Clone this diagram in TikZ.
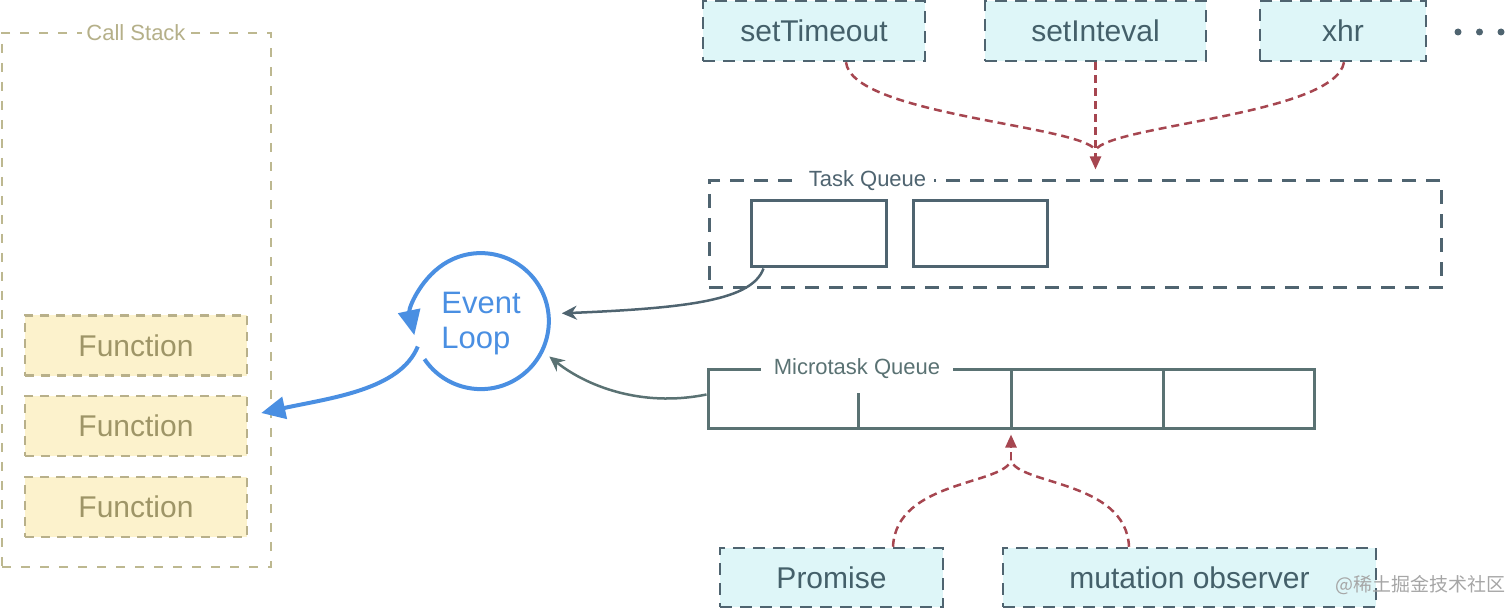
\documentclass[tikz,border=0pt]{standalone}
\usepackage{fontspec}
\setmainfont{Liberation Sans}
\newfontfamily\cjkfont{Noto Sans CJK SC}
\usetikzlibrary{arrows.meta,calc}
\definecolor{csline}{HTML}{BDB890}
\definecolor{cstext}{HTML}{B5B089}
\definecolor{fnfill}{HTML}{FCF2CC}
\definecolor{fnline}{HTML}{B8B08A}
\definecolor{fntext}{HTML}{9E9567}
\definecolor{cyfill}{HTML}{DEF6F8}
\definecolor{slate}{HTML}{4F6470}
\definecolor{cytext}{HTML}{44606A}
\definecolor{elblue}{HTML}{4A8FE2}
\definecolor{redarr}{HTML}{A64650}
\definecolor{mqcol}{HTML}{5A7273}
\tikzset{
  csbox/.style={draw=csline, line width=2.5pt, dash pattern=on 9pt off 10pt, minimum width=269pt, minimum height=534pt, inner sep=0pt},
  cslabel/.style={fill=white, text=cstext, font=\fontsize{22}{26}\selectfont, inner xsep=4pt, inner ysep=2pt},
  fnbox/.style={draw=fnline, fill=fnfill, line width=2.5pt, dash pattern=on 9pt off 7pt, minimum width=222pt, minimum height=60pt, inner sep=0pt, text=fntext, font=\fontsize{30}{34}\selectfont},
  apibox/.style={draw=slate, fill=cyfill, line width=2.5pt, dash pattern=on 12pt off 8pt, minimum height=60pt, inner sep=0pt, text=cytext, font=\fontsize{30}{34}\selectfont},
  tqbox/.style={draw=slate, line width=3pt, dash pattern=on 14pt off 10pt, minimum width=732pt, minimum height=107pt, inner sep=0pt},
  qlabel/.style={fill=white, text=slate, font=\fontsize{22}{26}\selectfont, inner xsep=8pt, inner ysep=2pt},
  slotbox/.style={draw=slate, line width=3pt, minimum height=66pt, inner sep=0pt},
  mqbox/.style={draw=mqcol, line width=3pt, minimum width=606pt, minimum height=59pt, inner sep=0pt},
  redflow/.style={draw=redarr, line width=2.5pt, dash pattern=on 8pt off 5pt},
  redhead/.style={redflow, -{Triangle[length=13pt,width=11pt]}},
  loopline/.style={draw=elblue, line width=4pt},
  slatearrow/.style={draw=slate, line width=2.5pt, -{Stealth[length=15pt,width=14pt]}},
  mqarrow/.style={draw=mqcol, line width=2.5pt, -{Stealth[length=15pt,width=14pt]}},
  dotmark/.style={circle, fill=slate, inner sep=0pt, minimum size=7pt},
  wmark/.style={font=\cjkfont\fontsize{19}{22}\selectfont, inner sep=0pt}
}
\begin{document}
\begin{tikzpicture}[x=1pt,y=-1pt]
\useasboundingbox (0,0) rectangle (1512,609);

% Call stack
\node[csbox] (cs) at (136.5,300) {};
\node[cslabel] (cslab) at (136,33) {Call Stack};
\node[fnbox] (fn1) at (136,345.5) {Function};
\node[fnbox] (fn2) at (136,426) {Function};
\node[fnbox] (fn3) at (136,507) {Function};

% Web API sources
\node[apibox, minimum width=222pt] (st) at (814,31) {setTimeout};
\node[apibox, minimum width=221pt] (si) at (1095.5,31) {setInteval};
\node[apibox, minimum width=166pt] (xh) at (1343,31) {xhr};
\node[dotmark] (d1) at (1458,32) {};
\node[dotmark] (d2) at (1479.5,32) {};
\node[dotmark] (d3) at (1501,32) {};

% Task queue
\node[tqbox] (tq) at (1075,234.5) {};
\node[qlabel] (tqlab) at (867.5,181) {Task Queue};
\node[slotbox, minimum width=135pt] (tb1) at (818.5,234) {};
\node[slotbox, minimum width=134pt] (tb2) at (980,234) {};

% Microtask queue
\node[mqbox] (mq) at (1011,398.5) {};
\draw[draw=mqcol, line width=3pt] ($(mq.south west)!0.25!(mq.south east)$) coordinate (mqd1) -- ++(0,-37);
\draw[draw=mqcol, line width=3pt] ($(mq.south west)!0.5!(mq.south east)$) coordinate (mqd2) -- ($(mq.north west)!0.5!(mq.north east)$);
\draw[draw=mqcol, line width=3pt] ($(mq.south west)!0.75!(mq.south east)$) coordinate (mqd3) -- ($(mq.north west)!0.75!(mq.north east)$);
\node[qlabel, text=mqcol, inner xsep=13pt] (mqlab) at (857,369) {Microtask Queue};

% Microtask sources
\node[apibox, minimum width=223pt, minimum height=59pt] (pr) at (831.5,577.5) {Promise};
\node[apibox, minimum width=373pt, minimum height=59pt] (mo) at (1189.5,577.5) {mutation observer};

% Event loop
\node[circle, minimum size=136pt, inner sep=0pt] (el) at (481,321) {};
\node[text=elblue, align=left, inner sep=0pt, font=\fontsize{31}{35}\selectfont] (eltext) at (481,324) {Event\\Loop};
\draw[loopline, -{Triangle[length=25pt,width=22pt]}] (el.214) arc[start angle=214, end angle=552, radius=68pt];
\draw[loopline, -{Triangle[length=24pt,width=22pt]}] (el.202) .. controls (400,390) and (330,398) .. ([shift={(13,-13)}]fn2.east);

% Task queue -> event loop, microtask -> event loop
\draw[slatearrow, shorten >=13pt] ([xshift=14pt]tb1.south west) .. controls (752,300) and (690,308) .. (el.6);
\draw[mqarrow, shorten >=9pt] ([yshift=4pt]mq.west) .. controls (640,408) and (585,385) .. (el.-26);

% Red dashed flows into task queue
\coordinate (tm) at (1095.5,150);
\draw[redflow] ([xshift=32pt]st.south) .. controls (852,115) and (1080,125) .. (tm);
\draw[redflow] ([xshift=1pt]xh.south) .. controls (1335,115) and (1110,125) .. (tm);
\draw[redhead, shorten >=10pt] (si.south) -- (si.south |- tq.north);

% Red dashed flows into microtask queue
\coordinate (mm) at (1011,460);
\draw[redflow] ([xshift=61.5pt]pr.north) .. controls (896,480) and (1005,485) .. (mm);
\draw[redflow] ([xshift=-60.5pt]mo.north) .. controls (1126,480) and (1017,485) .. (mm);
\draw[redhead, shorten >=5pt] (mm) -- (mq.south);

% watermark
\node[wmark, text=black!35, anchor=west] (wm1) at (1335,585) {@稀土掘金技术社区};
\end{tikzpicture}
\end{document}
